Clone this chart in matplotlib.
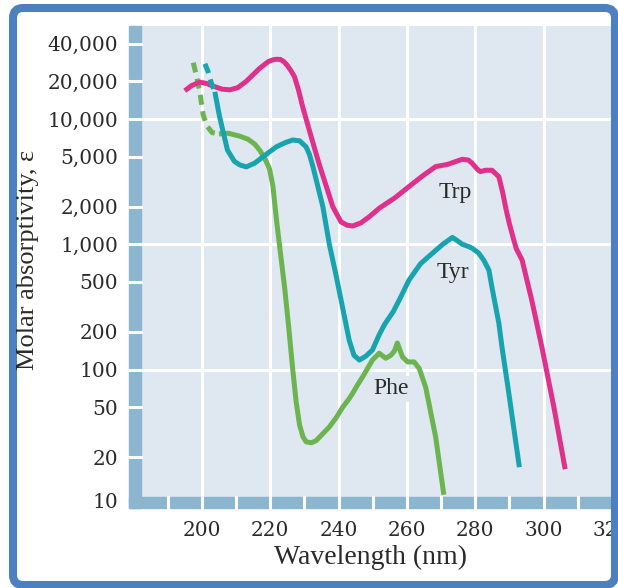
import matplotlib
matplotlib.use("Agg")
import matplotlib.pyplot as plt
from matplotlib.patches import Rectangle, FancyBboxPatch
from matplotlib.transforms import blended_transform_factory, ScaledTranslation

# --- data (wavelength nm, molar absorptivity) ---
trp_nm = [195.0, 197.0, 199.4, 201.5, 203.3, 206.0, 208.2, 210.5, 213.0, 216.9,
          219.5, 220.8, 221.8, 223.0, 224.0, 225.0, 226.0, 227.1, 228.3, 229.5,
          232.0, 234.4, 236.5, 238.3, 240.7, 242.5, 244.1, 246.5, 249.0, 252.0,
          256.5, 260.6, 264.5, 268.4, 272.0, 274.5, 276.2, 278.0, 279.1, 280.5,
          281.5, 283.0, 284.9, 286.9, 288.0, 289.0, 290.0, 291.0, 292.0, 293.7,
          296.6, 299.5, 303.0, 306.3]
trp_eps = [16800, 18500, 19700, 19200, 18300, 17300, 17100, 17800, 20000, 25400,
           28800, 29700, 30000, 29900, 28700, 26800, 24500, 21800, 17000, 12500,
           7200, 4300, 2850, 2000, 1510, 1420, 1400, 1480, 1660, 1950,
           2350, 2890, 3500, 4170, 4350, 4600, 4770, 4700, 4430, 4000,
           3800, 3900, 3900, 3460, 2600, 1900, 1450, 1150, 920, 748,
           350, 150, 50, 16]

tyr_dash_nm = [200.9, 201.8, 202.8, 203.8]
tyr_dash_eps = [27600, 24000, 19300, 16500]
tyr_nm = [203.8, 205.2, 207.5, 209.5, 211.1, 213.0, 215.5, 217.9, 221.8, 224.5,
          226.6, 228.6, 230.5, 231.5, 232.5, 235.4, 237.3, 239.3, 241.2, 243.1,
          244.5, 246.1, 248.0, 249.9, 251.9, 253.5, 256.0, 258.0, 260.6, 264.0,
          267.4, 270.5, 273.3, 274.5, 276.2, 278.0, 279.1, 281.0, 282.5, 284.0,
          284.9, 286.9, 287.8, 289.8, 292.9]
tyr_eps = [16500, 10400, 5650, 4600, 4300, 4150, 4450, 5000, 6000, 6500,
           6800, 6700, 6000, 5200, 4170, 2000, 1000, 560, 310, 172,
           130, 119, 128, 143, 190, 230, 290, 370, 518, 700,
           845, 1000, 1135, 1080, 1000, 960, 930, 850, 745, 620,
           450, 234, 152, 65, 16.6]

phe_dash_nm = [197.5, 198.6, 199.4, 200.4, 201.5, 203.0, 205.0]
phe_dash_eps = [28200, 21000, 16500, 10800, 8800, 7800, 7600]
phe_nm = [205.0, 207.7, 211.1, 213.5, 215.5, 217.0, 218.5, 219.8, 220.8, 221.8,
          223.0, 224.2, 225.4, 226.6, 227.6, 228.6, 229.6, 230.5, 232.0, 233.4,
          234.5, 237.3, 239.5, 241.2, 243.0, 244.1, 245.5, 247.0, 249.9, 251.9,
          253.8, 255.3, 256.3, 257.2, 258.7, 260.2, 262.1, 263.6, 265.5, 268.4,
          270.8]
phe_eps = [7600, 7700, 7300, 6900, 6300, 5600, 4800, 4000, 2900, 1600,
           850, 457, 220, 100, 55, 36, 29, 26.5, 26, 27,
           29, 34.8, 42, 50, 58, 64.4, 75, 87, 119, 135,
           123, 130, 140, 163, 126, 115, 115, 102, 72, 29,
           10]

x_ticks = [200, 220, 240, 260, 280, 300, 320]
x_tick_labels = ["200", "220", "240", "260", "280", "300", "320"]
y_ticks = [10, 20, 50, 100, 200, 500, 1000, 2000, 5000, 10000, 20000, 40000]
y_tick_labels = ["10", "20", "50", "100", "200", "500", "1,000", "2,000",
                 "5,000", "10,000", "20,000", "40,000"]
x_minor_gaps = list(range(190, 320, 10))
x_grid = [200, 220, 240, 260, 280, 300]
y_grid = [100, 1000, 10000]

# --- styling ---
BG = "#dfe7f0"
STRIP = "#8cb6cf"
FRAME = "#4d80bf"
TRP = "#e0308b"
TYR = "#17a4ae"
PHE = "#6cb44f"
TXT = "#2a2a2a"
LW = 3.6

fig = plt.figure(figsize=(6.18, 5.88), dpi=100)
fig.patch.set_facecolor("white")

# outer rounded blue frame (pixel coords)
frame = FancyBboxPatch((13, 3), 602, 577, boxstyle="round,pad=0,rounding_size=10",
                       transform=None, facecolor="none", edgecolor=FRAME,
                       linewidth=5.8, zorder=0)
fig.patches.append(frame)

W, H = 618, 588
left, right, top, bottom = 141, 612, 26, 497
ax = fig.add_axes([left / W, 1 - bottom / H, (right - left) / W, (bottom - top) / H])
ax.set_facecolor(BG)
ax.set_yscale("log")
ax.set_xlim(182.2, 319.5)
ax.set_ylim(9.6, 55300)
for s in ax.spines.values():
    s.set_visible(False)

# white grid
for x in x_grid:
    ax.axvline(x, color="white", lw=2.2, zorder=1)
for y in y_grid:
    ax.axhline(y, color="white", lw=2.2, zorder=1)

# thick blue axis strips with white tick gaps
sw = 12 / (right - left)
sh = 11 / (bottom - top)
ax.add_patch(Rectangle((-sw, -sh), sw, 1 + sh, transform=ax.transAxes,
                       color=STRIP, clip_on=False, zorder=3))
ax.add_patch(Rectangle((-sw, -sh), 1 + sw, sh, transform=ax.transAxes,
                       color=STRIP, clip_on=False, zorder=3))
tx = blended_transform_factory(ax.transData, ax.transAxes)
for x in x_minor_gaps:
    ax.plot([x, x], [-sh, 0], color="white", lw=2.2, transform=tx,
            clip_on=False, zorder=4)
ty = blended_transform_factory(ax.transAxes, ax.transData)
for y in y_ticks[1:]:
    ax.plot([-sw, 0], [y, y], color="white", lw=2.2, transform=ty,
            clip_on=False, zorder=4)

# curves
ax.plot(phe_dash_nm, phe_dash_eps, color=PHE, lw=LW, dashes=(2.0, 1.3), zorder=5)
ax.plot(phe_nm, phe_eps, color=PHE, lw=LW, solid_joinstyle="round",
        solid_capstyle="butt", zorder=5)
ax.plot(trp_nm, trp_eps, color=TRP, lw=LW, solid_joinstyle="round",
        solid_capstyle="butt", zorder=6)
ax.plot(tyr_dash_nm, tyr_dash_eps, color=TYR, lw=LW, dashes=(2.0, 1.3), zorder=7)
ax.plot(tyr_nm, tyr_eps, color=TYR, lw=LW, solid_joinstyle="round",
        solid_capstyle="butt", zorder=7)

# curve labels
lab_font = dict(family="Liberation Serif", size=17, color=TXT,
                ha="center", va="center", zorder=8)
ax.text(274.2, 2590, "Trp", **lab_font)
ax.text(273.5, 590, "Tyr", **lab_font)
ax.text(255.5, 70, "Phe", bbox=dict(facecolor=BG, edgecolor="none", pad=1.5), **lab_font)

# ticks
ax.set_xticks(x_ticks)
ax.set_xticklabels(x_tick_labels)
ax.set_yticks(y_ticks)
ax.set_yticklabels(y_tick_labels)
ax.yaxis.set_minor_locator(matplotlib.ticker.NullLocator())
ax.tick_params(axis="both", length=0, labelsize=14.5, colors=TXT)
ax.tick_params(axis="x", pad=17)
ax.tick_params(axis="y", pad=16.5)
for lab in ax.get_xticklabels() + ax.get_yticklabels():
    lab.set_family("DejaVu Serif")
# the "10" label sits level with the bottom strip
low = ax.get_yticklabels()[0]
low.set_transform(low.get_transform() + ScaledTranslation(0, -6 / 100, fig.dpi_scale_trans))

# axis titles
fig.text(371 / W, 1 - 557 / H, "Wavelength (nm)", family="Liberation Serif",
         size=20, color=TXT, ha="center", va="center")
fig.text(28 / W, 1 - 260 / H, "Molar absorptivity, ε", family="Liberation Serif",
         size=19, color=TXT, ha="center", va="center", rotation=90)

fig.savefig("out.png", dpi=100)
